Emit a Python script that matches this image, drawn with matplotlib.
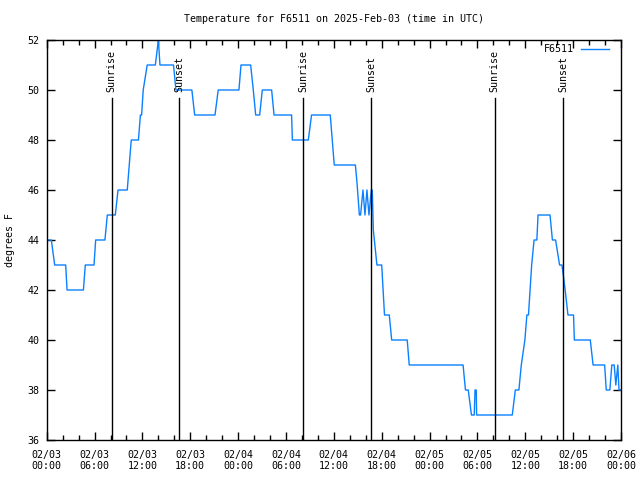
import numpy as np
import pandas as pd
import matplotlib
matplotlib.use("Agg")
import matplotlib.pyplot as plt
import matplotlib.dates as mdates

# hours since 2025-02-03 00:00 UTC and temperature (deg F)
hours = [0, 0.58, 1.0, 2.38, 2.55, 4.6, 4.84, 5.93, 6.14, 7.3, 7.6, 8.6, 8.94,
         10.1, 10.6, 11.5, 11.75, 11.9, 12.1, 12.6, 13.62, 14.0, 14.2, 15.9,
         16.2, 18.2, 18.55, 21.1, 21.5, 24.1, 24.36, 25.57, 25.9, 26.2, 26.7,
         27.03, 28.2, 28.5, 30.7, 30.8, 32.8, 33.2, 35.55, 35.8, 36.05, 38.7,
         38.9, 39.2, 39.35, 39.65, 39.9, 40.15, 40.4, 40.7, 40.82, 40.95, 41.4,
         42.0, 42.35, 42.95, 43.25, 45.2, 45.45, 52.2, 52.5, 52.85, 53.25,
         53.6, 53.7, 53.85, 53.9, 58.37, 58.75, 59.2, 59.5, 59.95, 60.2, 60.4,
         60.6, 60.8, 61.1, 61.45, 61.6, 63.1, 63.4, 63.8, 64.3, 64.6, 65.0,
         65.35, 66.05, 66.15, 68.15, 68.5, 69.95, 70.15, 70.6, 70.85, 71.15,
         71.35, 71.6, 71.75, 72.0]
temps = [44, 44, 43, 43, 42, 42, 43, 43, 44, 44, 45, 45, 46,
         46, 48, 48, 49, 49, 50, 51, 51, 52, 51, 51,
         50, 50, 49, 49, 50, 50, 51, 51, 50, 49, 49,
         50, 50, 49, 49, 48, 48, 49, 49, 48, 47, 47,
         46.3, 45, 45, 46, 45, 46, 45, 46, 46, 44.4, 43,
         43, 41, 41, 40, 40, 39, 39, 38, 38, 37,
         37, 38, 38, 37, 37, 38, 38, 39, 40, 41, 41,
         42, 43, 44, 44, 45, 45, 44, 44, 43, 43, 42,
         41, 41, 40, 40, 39, 39, 38, 38, 39, 39,
         38.2, 39, 38, 38]

sunrise = ["2025-02-03 08:09", "2025-02-04 08:10", "2025-02-05 08:10"]
sunset = ["2025-02-03 16:37", "2025-02-04 16:41", "2025-02-05 16:46"]

station = "F6511"

base = pd.Timestamp("2025-02-03 00:00")
t = (base + pd.to_timedelta(hours, unit="h")).to_numpy()

mono = "DejaVu Sans Mono"
fs = 7.2
plt.rcParams["font.family"] = mono
plt.rcParams["font.size"] = fs

fig = plt.figure(figsize=(6.4, 4.8), dpi=100)
ax = fig.add_axes([46.7 / 640, 1 - 440 / 480, (621 - 46.7) / 640, 400 / 480])

ax.plot(t, temps, color="#0a80ff", lw=1.0, label=station)

# sunrise / sunset markers
for lab, times in (("Sunrise", sunrise), ("Sunset", sunset)):
    for s in times:
        ts = np.datetime64(pd.Timestamp(s))
        ax.plot([ts, ts], [36, 49.68], color="black", lw=1.0)
        ax.text(ts, 49.9, lab, rotation=90, ha="center", va="bottom",
                fontsize=fs)

ax.set_xlim(np.datetime64("2025-02-03T00:00"), np.datetime64("2025-02-06T00:00"))
ax.set_ylim(36, 52)
ax.set_yticks(np.arange(36, 53, 2))

ax.xaxis.set_major_locator(mdates.HourLocator(byhour=[0, 6, 12, 18]))
ax.xaxis.set_minor_locator(mdates.HourLocator(interval=2))
ax.xaxis.set_major_formatter(mdates.DateFormatter("%m/%d\n%H:%M"))

ax.tick_params(which="both", direction="in", top=True, right=True,
               labelsize=fs, width=1.0)
ax.tick_params(axis="x", which="major", length=6, pad=7)
ax.tick_params(axis="x", which="minor", length=3.5)
ax.tick_params(axis="y", which="major", length=6, pad=5)
for sp in ax.spines.values():
    sp.set_linewidth(1.0)

fig.text(333.9 / 640, 1 - 19 / 480,
         "Temperature for F6511 on 2025-Feb-03 (time in UTC)",
         ha="center", va="center", fontsize=fs)
fig.text(10 / 640, 0.5, "degrees F", rotation=90, ha="center", va="center",
         fontsize=fs)

ax.legend(loc="upper right", bbox_to_anchor=(609 / 640, 1 - 44 / 480),
          bbox_transform=fig.transFigure, frameon=False, markerfirst=False,
          handlelength=2.85, handletextpad=0.7, borderpad=0, borderaxespad=0,
          fontsize=fs)

fig.savefig("out.png", dpi=100)
